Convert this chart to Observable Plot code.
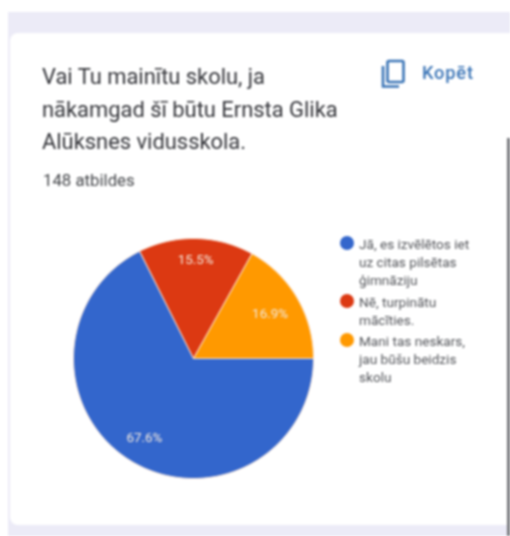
<!DOCTYPE html>
<html lang="lv">
<head>
<meta charset="utf-8">
<script src="https://cdn.jsdelivr.net/npm/d3@7"></script>
<script src="https://cdn.jsdelivr.net/npm/@observablehq/plot@0.6"></script>
<style>
html,body{margin:0;padding:0;background:#fff;width:510px;height:536px;overflow:hidden;font-family:Roboto,sans-serif}
#page{position:absolute;inset:0;filter:blur(.8px)}
#band{position:absolute;left:8px;top:12px;right:0;bottom:0;background:#ecebf7}
#card{position:absolute;left:10px;top:33px;width:500px;height:492px;background:#fff;border-radius:8px 0 0 8px}
#title{position:absolute;left:42px;top:61px;width:330px;font-size:21.9px;line-height:32.7px;color:#34353a;white-space:nowrap}
#count{position:absolute;left:43px;top:170px;font-size:16.8px;line-height:20px;color:#45474b;white-space:nowrap}
#copy{position:absolute;left:422px;top:62px;font-size:18.3px;line-height:22px;font-weight:500;letter-spacing:.8px;color:#3a74b6}
#icon{position:absolute;left:380px;top:58px}
#chart{position:absolute;left:10px;top:200px}
#legend{position:absolute;left:340px;top:235px;width:168px}
.item{position:relative;padding-left:19px;font-size:13.6px;line-height:18.2px;color:#54565b;margin-bottom:3px;white-space:nowrap}
.item i{position:absolute;left:0;top:1px;width:14px;height:14px;border-radius:50%}
#edge{position:absolute;left:507px;top:138px;width:3px;bottom:0;background:#77787c}
</style>
</head>
<body>
<div id="page">
  <div id="band"></div>
  <div id="card"></div>
  <div id="title"></div>
  <div id="count"></div>
  <svg id="icon" width="28" height="32" viewBox="0 0 28 32" fill="none" stroke="#3a74b6" stroke-width="2.6">
    <rect x="7.5" y="3" width="16" height="21" rx="1.5"/>
    <path d="M3 8v20.5h16"/>
  </svg>
  <div id="copy"></div>
  <div id="chart"></div>
  <div id="legend"></div>
  <div id="edge"></div>
</div>
<script>
const titleLines = ["Vai Tu mainītu skolu, ja", "nākamgad šī būtu Ernsta Glika", "Alūksnes vidusskola."];
const responses = "148 atbildes";
const copyLabel = "Kopēt";
const categories = ["Jā, es izvēlētos iet uz citas pilsētas ģimnāziju", "Nē, turpinātu mācīties.", "Mani tas neskars, jau būšu beidzis skolu"];
const legendLines = [["Jā, es izvēlētos iet", "uz citas pilsētas", "ģimnāziju"], ["Nē, turpinātu", "mācīties."], ["Mani tas neskars,", "jau būšu beidzis", "skolu"]];
const shares = [67.6, 15.5, 16.9];
const colors = ["#3366cc", "#dc3912", "#ff9900"];
const startAngle = Math.PI / 2;   // first slice starts at 3 o'clock, clockwise

document.getElementById("title").innerHTML = titleLines.join("<br>");
document.getElementById("count").textContent = responses;
document.getElementById("copy").textContent = copyLabel;

const slices = d3.pie().sort(null).startAngle(startAngle).endAngle(startAngle + 2 * Math.PI)(shares)
  .map((s, i) => ({...s, category: categories[i]}));

// outline of each slice in unit-circle coordinates, scaled by Plot's x and y
const outline = slices.flatMap((s) => {
  const steps = Math.ceil((s.endAngle - s.startAngle) * 60);
  const arc = d3.range(steps + 1).map((k) => {
    const a = s.startAngle + (s.endAngle - s.startAngle) * k / steps;
    return {category: s.category, x: Math.sin(a), y: Math.cos(a)};
  });
  const center = {category: s.category, x: 0, y: 0};
  return [center, ...arc, center];
});

const labelRadii = [0.78, 0.82, 0.74];
const labels = slices.map((s, i) => {
  const a = (s.startAngle + s.endAngle) / 2;
  return {text: s.value.toFixed(1) + "%", x: labelRadii[i] * Math.sin(a), y: labelRadii[i] * Math.cos(a)};
});

const plot = Plot.plot({
  width: 320, height: 316,
  marginLeft: 63, marginRight: 17, marginTop: 38, marginBottom: 38,
  x: {domain: [-1, 1], axis: null},
  y: {domain: [-1, 1], axis: null},
  color: {domain: categories, range: colors},
  marks: [
    Plot.line(outline, {x: "x", y: "y", z: "category", fill: "category", stroke: "#fbe6d8", strokeWidth: 1, strokeLinejoin: "round"}),
    Plot.text(labels, {x: "x", y: "y", text: "text", fill: "#f3e9de", fontSize: 13.4, fontFamily: "Roboto, sans-serif"})
  ]
});
plot.style.background = "transparent";
document.getElementById("chart").append(plot);

document.getElementById("legend").append(...legendLines.map((lines, i) => {
  const item = document.createElement("div");
  item.className = "item";
  item.innerHTML = `<i style="background:${colors[i]}"></i>` + lines.join("<br>");
  return item;
}));
</script>
</body>
</html>
